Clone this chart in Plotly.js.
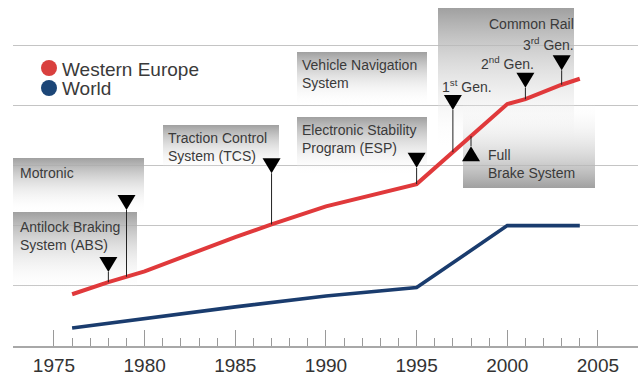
<!DOCTYPE html>
<html>
<head>
<meta charset="utf-8">
<script src="https://cdn.plot.ly/plotly-3.0.1.min.js"></script>
<style>
  html, body { margin: 0; padding: 0; background: #ffffff; }
  #chart { width: 638px; height: 376px; }
</style>
</head>
<body>
<div id="chart"></div>
<script>
// ---- data -------------------------------------------------------------
const europeYears  = [1976, 1978, 1980, 1985, 1987, 1990, 1995, 1997, 2000, 2001, 2003, 2004];
const europeValues = [0.86, 1.06, 1.24, 1.81, 2.02, 2.32, 2.69, 3.22, 4.02, 4.10, 4.34, 4.44];

const worldYears  = [1976, 1980, 1985, 1990, 1995, 2000, 2004];
const worldValues = [0.30, 0.46, 0.65, 0.83, 0.97, 2.00, 2.00];

const tickYears  = [1975, 1980, 1985, 1990, 1995, 2000, 2005];
const tickLabels = ['1975', '1980', '1985', '1990', '1995', '2000', '2005'];

const seriesNames = ['Western Europe', 'World'];

// system introductions, marked on the Western Europe curve
const milestoneYears = [1979, 1978, 1987, 1995, 1997, 1998, 2001, 2003];

// ---- layout helpers -----------------------------------------------------
const FONT = 'Liberation Sans, Arial, Helvetica, sans-serif';
const TEXT = '#3a3a3a';
const RED = '#e0393b';
const BLUE = '#1a3c6e';

// height (axis units) of each flag's triangle tip, and its direction
const flagTips = [2.26, 1.23, 2.87, 2.96, 3.92, 3.32, 4.29, 4.58];
const flagUp   = [false, false, false, false, false, true, false, false];

// value of the Western Europe curve at a given year (linear between points)
function europeAt(year) {
  for (let i = 0; i < europeYears.length - 1; i++) {
    const a = europeYears[i], b = europeYears[i + 1];
    if (year >= a && year <= b) {
      const t = (year - a) / (b - a);
      return europeValues[i] + t * (europeValues[i + 1] - europeValues[i]);
    }
  }
  return europeValues[europeValues.length - 1];
}

// grey label panels, in the pixel frame of the base subplot
// 'down' = grey at the top fading downwards, 'up' = grey at the bottom
const panels = [
  { x0: 13,  x1: 144, y0: 158, y1: 214, fade: 'down' },
  { x0: 13,  x1: 137, y0: 212, y1: 292, fade: 'down' },
  { x0: 163, x1: 279, y0: 125, y1: 172, fade: 'down' },
  { x0: 297, x1: 427, y0: 52,  y1: 106, fade: 'down' },
  { x0: 297, x1: 427, y0: 117, y1: 176, fade: 'down' },
  { x0: 438, x1: 574, y0: 8,   y1: 150, fade: 'down' },
  { x0: 463, x1: 595, y0: 100, y1: 188, fade: 'up' }
];

const traces = [];

panels.forEach((p, i) => {
  const grey = 'rgba(160,160,160,1)';
  const clear = 'rgba(255,255,255,0)';
  traces.push({
    type: 'scatter', mode: 'none', xaxis: 'x', yaxis: 'y', uid: 'panel' + i,
    x: [p.x0, p.x1, p.x1, p.x0, p.x0],
    y: [p.y0, p.y0, p.y1, p.y1, p.y0],
    fill: 'toself',
    fillgradient: {
      type: 'vertical',
      start: p.y0, stop: p.y1,
      colorscale: p.fade === 'down' ? [[0, grey], [1, clear]] : [[0, clear], [1, grey]]
    },
    hoverinfo: 'skip', showlegend: false
  });
});

traces.push({
  type: 'scatter', mode: 'lines', xaxis: 'x2', yaxis: 'y2',
  name: seriesNames[1], x: worldYears, y: worldValues,
  line: { color: BLUE, width: 3.6 }, hoverinfo: 'skip', showlegend: false
});
traces.push({
  type: 'scatter', mode: 'lines', xaxis: 'x2', yaxis: 'y2',
  name: seriesNames[0], x: europeYears, y: europeValues,
  line: { color: RED, width: 4 }, hoverinfo: 'skip', showlegend: false
});

// ---- flags: stem + triangle ---------------------------------------------
const shapes = [];
milestoneYears.forEach((yr, i) => {
  const tip = flagTips[i];
  shapes.push({
    type: 'line', xref: 'x2', yref: 'y2', layer: 'above',
    x0: yr, x1: yr, y0: europeAt(yr), y1: tip,
    line: { color: '#222222', width: 1 }
  });
  shapes.push({
    type: 'path', xref: 'x2', yref: 'y2', layer: 'above',
    xsizemode: 'pixel', ysizemode: 'pixel', xanchor: yr, yanchor: tip,
    path: flagUp[i] ? 'M-9,-15L9,-15L0,0Z' : 'M-9,15L9,15L0,0Z',
    fillcolor: '#000000', line: { width: 0 }
  });
});

// legend dots
shapes.push({ type: 'circle', xref: 'x', yref: 'y', x0: 41, x1: 57, y0: 60, y1: 76,
  fillcolor: '#d9403e', line: { width: 0 }, layer: 'above' });
shapes.push({ type: 'circle', xref: 'x', yref: 'y', x0: 41, x1: 57, y0: 80, y1: 96,
  fillcolor: '#1c4677', line: { width: 0 }, layer: 'above' });

// ---- texts ----------------------------------------------------------------
function label(text, x, y, size, anchor) {
  return {
    text: text, xref: 'x', yref: 'y', x: x, y: y,
    xanchor: anchor || 'left', yanchor: 'middle', align: anchor || 'left',
    showarrow: false, borderpad: 0, borderwidth: 0,
    font: { family: FONT, size: size, color: TEXT }
  };
}

const annotations = [
  label(seriesNames[0], 62, 69, 19),
  label(seriesNames[1], 62, 88, 19),
  label('Motronic', 20, 173, 14),
  label('Antilock Braking', 20, 227, 14),
  label('System (ABS)', 20, 245, 14),
  label('Traction Control', 168, 138, 14),
  label('System (TCS)', 168, 156, 14),
  label('Vehicle Navigation', 302, 65, 14),
  label('System', 302, 83, 14),
  label('Electronic Stability', 302, 130, 14),
  label('Program (ESP)', 302, 148, 14),
  label('Common Rail', 574, 24, 14, 'right'),
  label('3<sup>rd</sup> Gen.', 574, 44, 14, 'right'),
  label('2<sup>nd</sup> Gen.', 481, 63, 14),
  label('1<sup>st</sup> Gen.', 442, 86, 14),
  label('Full', 488, 155, 14),
  label('Brake System', 488, 173, 14)
];

// minor ticks every year between the labelled ones
const minorYears = [];
for (let y = tickYears[0]; y <= tickYears[tickYears.length - 1]; y++) {
  if (tickYears.indexOf(y) < 0) minorYears.push(y);
}

const xDomain = [13 / 638, 1];
const yDomain = [30 / 376, 1];

const layout = {
  width: 638, height: 376,
  margin: { l: 0, r: 0, t: 0, b: 0 },
  paper_bgcolor: '#ffffff', plot_bgcolor: 'rgba(0,0,0,0)',
  showlegend: false,
  // base frame: pixel positions for panels and texts
  xaxis: { domain: xDomain, range: [13, 638], visible: false, fixedrange: true },
  yaxis: { domain: yDomain, range: [346, 0], visible: false, fixedrange: true },
  // value axes
  xaxis2: {
    overlaying: 'x', anchor: 'y2',
    range: [1972.74, 2007.21],
    tickmode: 'array', tickvals: tickYears, ticktext: tickLabels,
    ticks: 'inside', ticklen: 16, tickwidth: 1, tickcolor: '#9a9a9a',
    minor: { tickmode: 'array', tickvals: minorYears, ticks: 'inside',
             ticklen: 8, tickwidth: 1, tickcolor: '#9a9a9a', showgrid: false },
    showline: true, linecolor: '#a8a8a8', linewidth: 2,
    showgrid: false, zeroline: false,
    ticklabelstandoff: 1,
    tickfont: { family: FONT, size: 19, color: '#333333' },
    fixedrange: true
  },
  yaxis2: {
    overlaying: 'y', anchor: 'x2',
    range: [0, 5.748], tick0: 0, dtick: 1,
    showgrid: true, gridcolor: '#c4c4c4', gridwidth: 1,
    showticklabels: false, ticks: '', zeroline: false, showline: false,
    fixedrange: true
  },
  shapes: shapes,
  annotations: annotations
};

Plotly.newPlot('chart', traces, layout, { displayModeBar: false, staticPlot: true });
</script>
</body>
</html>
